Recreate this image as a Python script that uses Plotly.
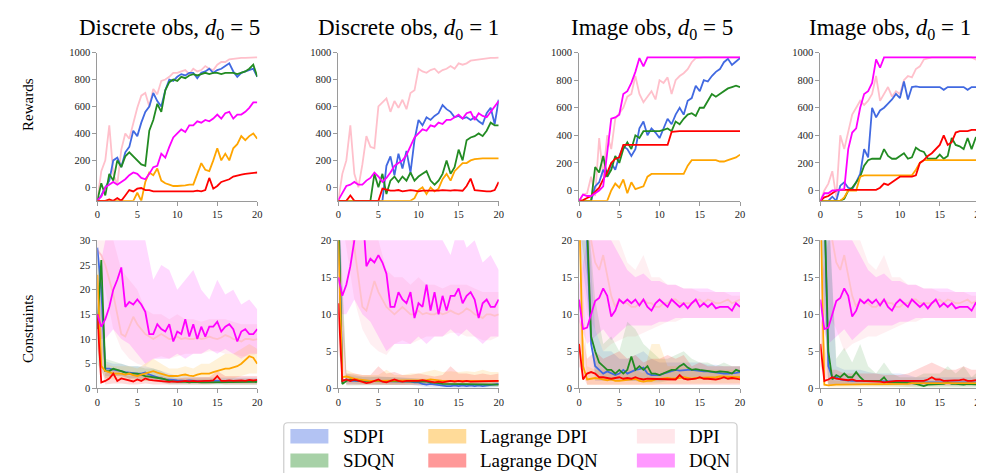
import plotly.graph_objects as go

W, H = 984, 473
X = [i / 2 for i in range(41)]       # training steps, half-unit grid
XB = list(range(21))                 # grid of the shaded spread bands

# ---------------- Rewards (x = 0, 0.5, ..., 20) ----------------
R1_SDPI = [-100,-60,0,50,200,220,150,260,300,420, 380,480,560,600,700,640,600,720,800,790,
           820,840,830,850,850,810,850,860,880,850, 870,880,900,920,860,820,850,860,870,880, 820]
R1_SDQN = [-100,30,-60,100,50,200,150,230,260,230, 200,170,160,420,500,620,560,720,780,800,
           790,820,810,830,840,830,840,850,840,850, 850,840,850,850,850,840,850,860,880,910, 820]
R1_LDPI = [-100,-100,-100,-100,-100,-100,-100,-100,-100,-100, -40,-100,40,110,90,140,50,30,20,10,
           10,10,15,20,20,100,180,130,120,200, 290,200,250,200,290,320,380,350,380,400, 360]
R1_LDQN = [-100,-100,-100,-90,-100,-80,-100,-60,-20,-30, -10,-5,-20,-20,-30,-30,-30,-30,-35,-30,
           -30,-30,-35,-30,-30,-25,-30,-20,70,-10, 10,40,50,60,80,90,95,100,105,110, 110]
R1_DPI = [-95,120,200,460,100,20,280,400,360,480, 590,680,700,600,730,690,790,800,820,850,
          850,860,870,840,880,860,870,900,880,870, 910,930,930,950,955,955,960,960,960,962, 965]
R1_DQN = [-95,-70,0,20,40,20,40,60,90,110, 100,70,60,100,150,160,250,220,300,370,
          400,430,410,460,460,490,480,500,490,510, 540,510,550,560,510,540,540,560,590,630, 630]

R2_SDPI = [-100,-100,-100,-100,-100,-100,-100,-100,-100,-100, -100,-100,160,230,90,250,140,270,110,350,
           500,460,520,500,530,550,610,580,560,520, 530,510,520,500,520,490,470,550,590,470, 650]
R2_SDQN = [-100,-100,-100,-100,-100,-100,-100,-100,-100,100, 0,100,-50,50,80,40,80,50,110,50,
           80,100,120,50,20,50,100,200,100,150, 280,200,350,370,380,400,380,420,480,460, 460]
R2_LDPI = [-100,-100,-100,-100,-100,-100,-100,-100,-100,-100, -100,-100,-100,-100,-100,-100,-100,-100,-100,-80,
           -20,0,-50,0,-30,-10,60,100,50,120, 150,180,180,200,210,215,215,215,215,215, 215]
R2_LDQN = [-100,-100,-100,-60,-100,-100,-100,-100,-100,-100, -100,-10,-20,-25,-25,-20,-30,-25,-20,-25,
           -30,-25,-25,-30,-30,-25,-20,-25,-25,-20, -20,-25,10,65,-20,-25,-30,-30,-30,-20, 40]
R2_DPI = [-95,100,200,460,100,0,170,380,300,290, 600,630,660,560,640,590,650,580,700,720,
          880,860,850,870,880,850,870,880,900,880, 920,910,920,940,945,950,955,955,960,960, 962]
R2_DQN = [-95,-40,10,20,40,20,20,50,70,110, 80,40,70,110,160,180,200,240,300,370,
          400,430,420,460,450,480,470,500,500,520, 540,510,550,560,500,550,530,520,560,600, 640]

R3_SDPI = [-75,-75,-75,-75,30,60,150,100,200,150, 250,320,300,250,300,450,500,400,450,420,
           380,450,520,480,550,600,550,650,670,760, 720,800,790,830,860,880,930,955,910,935, 960]
R3_SDQN = [-75,-75,-75,-75,170,130,250,100,150,250, 200,300,350,300,400,380,430,430,430,430,
           430,440,450,430,500,480,520,550,560,540, 600,600,650,700,680,700,720,740,750,760, 750]
R3_LDPI = [-75,-75,-75,-75,-75,-75,-75,-75,0,50, 20,80,-20,60,10,20,30,100,120,120,
           120,120,120,120,120,120,120,180,220,220, 220,220,220,220,220,210,210,220,230,240, 260]
R3_LDQN = [-75,-70,-55,-40,-10,20,80,130,200,230, 240,330,330,330,330,330,330,330,330,330,
           330,330,330,425,430,430,430,430,430,430, 430,430,430,430,430,430,430,430,430,430, 430]
R3_DPI = [-75,-30,-20,100,-40,380,100,400,300,520, 560,600,680,700,830,700,640,680,720,660,
          800,780,820,700,800,830,850,880,930,960, 965,965,965,965,965,965,965,965,965,965, 965]
R3_DQN = [-75,-30,-40,-40,-20,0,30,300,520,530, 550,700,720,780,860,960,900,965,965,965,
          965,965,965,965,965,965,965,965,965,965, 965,965,965,965,965,965,965,965,965,965, 965]

R4_SDPI = [-75,-75,-75,-45,-75,35,60,20,10,60, 120,300,240,600,530,580,600,630,660,700,
           670,790,660,750,755,750,750,750,750,750, 750,730,750,750,750,750,750,730,750,750, 750]
R4_SDQN = [-75,-75,-75,-75,-75,-75,-60,0,20,60, 100,180,220,230,230,230,300,250,230,230,
           250,270,230,240,310,290,280,230,230,230, 260,230,250,380,330,320,300,380,300,380, 350]
R4_LDPI = [-75,-75,-75,-75,-75,-75,-50,0,0,0, 100,110,110,110,110,110,110,110,110,110,
           110,110,110,110,150,200,220,220,220,220, 220,220,220,220,220,220,220,220,220,220, 220]
R4_LDQN = [-75,-50,-40,-20,0,5,5,5,5,5, 5,5,5,5,5,20,50,40,60,80,
           100,100,100,100,110,200,220,250,270,300, 330,400,330,350,420,430,430,430,440,440, 430]
R4_DPI = [-75,0,50,140,-50,400,300,420,550,600, 650,620,650,700,830,650,700,750,680,720,
          700,800,830,820,880,900,950,960,965,965, 965,965,965,965,965,965,965,965,965,950, 965]
R4_DQN = [-75,-20,-20,0,0,5,10,300,420,450, 600,700,720,780,950,890,965,965,965,965,
          965,965,965,965,965,965,965,965,965,965, 965,965,965,965,965,965,965,965,965,965, 965]

# ---------------- Constraints (x = 0, 0.5, ..., 20) ----------------
C_DISC_DQN = [15,12.5,14,16.5,20,22,24.5,16.5,17.5,17, 18,17,15.5,11,11,13,12,11.5,13,9.5,
              11.5,11,14,10.5,13,10,12.5,10.5,12.5,12.5, 13.5,11.5,12.5,13,12,9.5,11.5,12,11,11, 12]
C_DISC_DPI = [28,27,25,22,19,15,11,10.5,12.5,14.5, 13,12,11,10.5,10,10.5,11,10.5,10,10,
              10.5,10,10.2,10,10,10.3,10,10.2,10.5,10.2, 10,10.3,10.8,10.5,10,9.8,9.5,10,10,9.8, 10]
C_IMG_DQN = [12,8,8.2,10,11.8,12.2,13.5,12.5,9.7,10.5, 12,11.5,12,11.5,12,11.2,12,11,10.5,11.5,
             12,11.5,11,12,11.5,11,11.5,10.8,11.5,12, 11,11.5,11,11.5,10.8,11,11,11,10.5,11.5, 11]
C_IMG_DPI = [25,24,22,20,17,16,18,15,12.5,11, 12,11.5,11.5,11,11,11.5,12,11.5,11.5,11,
             11,11.5,11.5,12,12,11.5,11.5,11.5,11.5,11.8, 12,11.5,12,11.8,11.5,11.5,11.8,12,11.5,11.8, 12]

C1_SDPI = [28.5,20,4,4,3.8,3.7,3.5,3.3,3.2,3, 3,3,3.2,2.8,2.5,2.3,2,1.8,1.8,1.7,
           1.6,1.5,1.5,1.6,1.5,1.5,1.4,1.5,1.5,1.4, 1.5,1.4,1.5,1.4,1.5,1.4,1.5,1.5,1.4,1.5, 1.5]
C1_SDQN = [12,26,3.5,3.5,4,3.8,3.5,3.2,3,3, 3,2.8,2.5,2.4,2.3,2.2,2,1.8,1.5,1.4,
           1.3,1.3,1.3,1.2,1.3,1.2,1.2,1.2,1.2,1.2, 1.3,1.2,1.3,1.2,1.2,1.2,1.2,1.3,1.2,1.3, 1.3]
C1_LDPI = [23,4.5,3.5,3.3,3,3,3,2.8,3,2.7, 2.5,2.8,3,3.3,3.5,3.2,3,2.7,2.5,2.5,
           2.5,2.7,2.8,2.6,2.5,2.8,3,3,3,3.3, 3.5,3.8,4,4,4.2,4.5,5,5.8,6.5,6.2, 5]
C1_LDQN = [15,1.2,1.5,2,3,1.5,2,1.8,1.5,1.4, 1.8,1.5,2,1.7,1.6,1.5,1.5,1.3,1.3,1.4,
           1.3,1.4,1.5,1.4,1.5,1.4,1.5,1.5,1.5,1.6, 2.5,1.5,1.5,1.6,1.5,1.6,1.6,1.5,1.7,1.6, 1.7]

C2_SDPI = [25,1,1.2,1,1,1,1,0.9,0.9,0.9, 1,1,0.9,0.9,0.9,1,0.9,1,0.9,0.8,
           0.8,0.6,0.5,0.6,0.5,0.4,0.3,0.3,0.3,0.4, 0.3,0.4,0.3,0.4,0.3,0.4,0.3,0.4,0.4,0.5, 0.6]
C2_SDQN = [25,0.6,1,1.2,1.1,1,1,1,1,1, 1,1,1,1,1,1,0.9,0.9,0.9,0.9,
           0.9,0.9,0.9,0.8,0.8,0.7,0.6,0.6,0.5,0.5, 0.6,0.5,0.5,0.6,0.5,0.5,0.6,0.5,0.5,0.6, 0.5]
C2_LDPI = [20,1.5,1.6,1.4,1.3,1.2,1.1,1,1,1, 1,1.1,1,1,1,1,1,1,1,1,
           1,1.1,1.1,1.2,1.1,1,1,1,1,1, 1,1,1,1,1,1,1,1,1,0.9, 1]
C2_LDQN = [11.5,1,1.2,1,1.2,1,0.8,0.7,0.8,1, 1.2,0.9,0.8,1,1.2,1,0.9,1,1,0.9,
           1,1.1,1,0.9,0.8,0.9,0.8,0.9,1,0.9, 1,0.9,1,0.9,0.9,1,0.9,1,0.9,1, 1]

C3_SDPI = [25,25,20,6,3,2.5,2,2.3,2,1.8, 2,2.5,2,2.3,2.5,2.6,2.8,2,1.8,1.8,
           1.8,2,2.2,2.3,2.5,2.4,2.5,2.5,2.5,2.4, 2.3,2.3,2.3,2.2,2.2,2.1,2,2,2,2.1, 2.2]
C3_SDQN = [25,25,22,7,5,3.5,3,2.5,2.5,2, 2.5,2,2.5,4.3,2.5,3,2.5,3,2,2,
           1.8,2,2.3,2.5,2.5,3,3.3,2.8,2.5,2.6, 2.5,2.4,2.3,2.3,2.2,2.3,2.3,2.2,2,2.5, 2.3]
C3_LDPI = [25,3,1.2,1.3,1.4,1.3,1.2,1.1,1.2,1, 1,1.1,1.2,1.2,1.3,1,0.9,1,1,1.2,
           1.3,1.4,1.4,1.3,1.3,1.4,1.5,1.4,1.3,1.4, 1.4,1.5,1.5,1.5,1.5,1.6,1.6,1.5,1.5,1.5, 1.5]
C3_LDQN = [6,1.2,2,2.2,2,1.5,1.5,1.4,1.3,1.4, 1.5,1.3,1.4,1.3,1.5,1.3,1.2,1.3,1.3,1.2,
           1.2,1.3,1.3,1.2,1.2,1.8,1.3,1.2,1.2,1.3, 1.5,1.3,1.3,1.2,1.2,1.3,1.5,1.3,1.4,1.3, 1.2]

C4_SDPI = [25,25,3,1.5,1.5,1.2,1.1,1,1,1, 1,1,1,1,1,1,1,1,1,1,
           1,0.9,0.9,0.9,0.8,0.8,0.8,0.8,0.8,0.8, 0.8,0.8,0.8,0.8,0.8,0.8,0.8,0.8,0.8,0.8, 0.8]
C4_SDQN = [25,25,5,1.2,1.8,1.5,2,1.5,1.5,2.2, 1.5,1,1,1,1,1,1.5,0.8,0.8,0.8,
           0.8,0.8,0.8,0.7,0.6,0.4,0.3,0.5,0.5,0.5, 0.5,0.6,0.8,0.6,0.6,0.5,0.5,0.6,0.6,0.5, 0.5]
C4_LDPI = [25,0.5,0.4,0.5,0.5,0.5,0.5,0.5,0.5,0.5, 0.6,0.6,0.6,0.6,0.6,0.6,0.6,0.6,0.6,0.6,
           0.6,0.6,0.6,0.7,0.7,0.7,0.7,0.7,0.7,0.7, 0.7,0.7,0.7,0.7,0.7,0.7,0.7,0.7,0.7,0.7, 0.7]
C4_LDQN = [6,1,1.2,1.5,1.3,1.2,1.2,1.1,1.2,1, 1,1,1,0.9,0.9,0.9,0.8,0.9,1,1,
           1,1,0.9,0.9,1,1,1,1.2,1.5,1.2, 1.2,1,1,1,1,1.1,1.2,1,1,1.1, 1.2]

# ---------------- Constraint spread bands (x = 0, 1, ..., 20) ----------------
BD_DQN_HI = [22,30,32,32,30,32,30,22,25,24,20,22,24,20,18,22,19,20,17,18,16]
BD_DQN_LO = [10,10,12,10,9,7,5,6,6,6,7,6,7,7,8,7,8,7,6,7,7]
BD_DPI_HI = [30,30,30,24,22,20,16,15,15,14,15,14,14,13.5,14,14,14,13.5,13,13,13]
BD_DPI_LO = [26,20,12,8,6,5,4.5,6,6.5,6,6.5,7,7,7,7.5,7.5,7,7,6.5,6.5,7]
BI_DQN_HI = [14,20,22,22,20,18,16,15,15.5,14.5,14.5,14,14,13.5,13.5,13.5,13.5,13,13,13,13]
BI_DQN_LO = [9,6,7,8,6.5,7.5,8.5,8.5,8.5,8.5,9,9,9.5,9.5,9.5,9.5,9.5,9.5,9.5,9.5,9.5]
BI_DPI_HI = [22,22,22,22,22,20,17,16,18,15,15,14,14,13.5,13.5,13,13,13,13,12.5,12.5]
BI_DPI_LO = [18,10,8,5,6,6.5,7,7,7.5,8,8.5,9,9,9.5,9.5,9.5,9.5,9.5,9.5,9.5,9.5]

B1_SDPI_HI = [30,5.5,5,5,4.5,4.5,4.5,4,3.5,3,2.5,2.5,2.3,2.3,2.2,2.2,2.2,2.2,2.2,2.2,2.2]
B1_SDPI_LO = [20,2.5,2.5,2.5,2,2,2,1.5,1.2,1,1,1,1,1,1,1,1,1,1,1,1]
B1_SDQN_HI = [28,6,5.5,5,4.5,4.5,4,4,3.5,2.5,2,2,2,2,2,2,2,2,2,2,2]
B1_SDQN_LO = [5,2,2.5,2.5,2,2,1.5,1.5,1.2,0.8,0.7,0.7,0.7,0.7,0.7,0.7,0.7,0.7,0.7,0.7,0.7]
B1_LDPI_HI = [28,5,4.5,4.5,4.5,4,5,6,5,4,4,4.5,4,5,5,6,7,7,8,9,8]
B1_LDPI_LO = [18,2,1.8,1.8,1.8,1.5,1.5,1.8,1.8,1.5,1.5,1.5,1.5,1.5,1.5,2,2,2,2.5,3,3]
B1_LDQN_HI = [20,3,4,3,2.5,3,3,2.5,2.5,2,2,2.2,2.2,2.2,2.3,3.5,2.5,2.5,2.5,2.5,2.5]
B1_LDQN_LO = [8,0.8,1,1,0.8,0.8,1,0.8,0.8,0.7,0.7,0.8,0.8,0.8,0.8,1,0.8,0.8,0.8,0.8,0.8]

B2_SDPI_HI = [25,1.8,1.6,1.5,1.5,1.6,1.5,1.5,1.5,1.4,1.3,1,0.9,0.7,0.7,0.7,0.7,0.7,0.7,0.8,1]
B2_SDPI_LO = [15,0.6,0.6,0.5,0.5,0.5,0.5,0.5,0.5,0.5,0.4,0.2,0.1,0,0,0,0,0,0,0.1,0.2]
B2_SDQN_HI = [28,2,1.8,1.6,1.6,1.6,1.5,1.5,1.4,1.4,1.4,1.3,1.2,1,0.9,1,0.9,0.9,1,0.9,0.9]
B2_SDQN_LO = [20,0.4,0.5,0.5,0.5,0.5,0.5,0.5,0.5,0.5,0.5,0.5,0.4,0.3,0.2,0.2,0.2,0.2,0.2,0.2,0.2]
B2_LDPI_HI = [25,2.5,2,1.8,1.8,1.8,2.5,1.8,1.8,2,2,2.2,2.5,2.2,2.3,2.2,2.3,2.2,2.5,2.2,2.2]
B2_LDPI_LO = [15,0.8,0.7,0.6,0.6,0.6,0.6,0.6,0.6,0.6,0.6,0.6,0.5,0.5,0.5,0.5,0.5,0.5,0.5,0.5,0.5]
B2_LDQN_HI = [18,2,2,1.8,1.8,3,2,2.2,1.8,1.8,2,1.8,1.6,1.8,3,2,2,1.8,2,1.8,2]
B2_LDQN_LO = [5,0.5,0.5,0.4,0.4,0.5,0.4,0.5,0.4,0.4,0.5,0.4,0.4,0.4,0.5,0.4,0.4,0.4,0.4,0.4,0.4]

B3_SDPI_HI = [25,25,8,5,5,4,4,4.5,5,4,3.5,3.5,3.5,3.5,3.5,3.5,3.2,3.2,3,3,3]
B3_SDPI_LO = [20,12,1,1,1,1,1,1,1.2,1,1,1.2,1.5,1.5,1.5,1.5,1.5,1.5,1.3,1.3,1.5]
B3_SDQN_HI = [25,25,12,6,7,5,9,8,6,5,4,4,4.5,5,4,3.5,3.5,3,3.5,3,3]
B3_SDQN_LO = [22,15,2,1.5,1,1,1,1,0.8,0.8,0.8,1,1.2,1.5,1.2,1.2,1.2,1.2,1.2,1.2,1.5]
B3_LDPI_HI = [25,3,2.5,2.5,2.5,2,2.5,2.5,2,6,6,3,3,3,2.5,2.5,2.5,2.5,2.5,2.5,2.5]
B3_LDPI_LO = [20,0.5,0.6,0.6,0.6,0.5,0.6,0.6,0.5,0.5,0.6,0.6,0.6,0.7,0.6,0.6,0.7,0.7,0.7,0.7,0.7]
B3_LDQN_HI = [10,4,5,4,4.5,5,4,4.5,3.5,4,4,4.5,4,4.5,3,3.5,3,3,3,3,3]
B3_LDQN_LO = [3,0.5,0.6,0.5,0.5,0.5,0.5,0.5,0.5,0.5,0.5,0.5,0.5,0.5,0.5,0.5,0.5,0.5,0.5,0.5,0.5]

B4_SDPI_HI = [25,25,3,2.5,2.5,2.5,2.2,2,2,2,2,1.8,1.5,1.5,1.5,1.5,1.5,1.5,1.5,1.5,1.5]
B4_SDPI_LO = [20,0.5,0.5,0.5,0.5,0.5,0.5,0.5,0.5,0.5,0.5,0.4,0.3,0.3,0.3,0.3,0.3,0.3,0.3,0.3,0.3]
B4_SDQN_HI = [25,25,4,5.5,3.5,6,3,2,3.5,2,1.5,1.5,1.5,2,2,2,3,2,3,1.5,2.5]
B4_SDQN_LO = [22,0.5,0.5,0.5,0.5,0.5,0.4,0.4,0.3,0.3,0.3,0.2,0.1,0,0,0,0.1,0.1,0.1,0.1,0.1]
B4_LDPI_HI = [25,1.2,1,1,1,1,1,1,1,1,1,1,1.1,1.1,1.1,1.1,1.1,1.1,1.1,1.1,1.1]
B4_LDPI_LO = [20,0.1,0.1,0.1,0.1,0.2,0.2,0.2,0.2,0.2,0.2,0.2,0.3,0.3,0.3,0.3,0.3,0.3,0.3,0.3,0.3]
B4_LDQN_HI = [10,2.5,2.5,2,2,2,2,2,1.8,1.8,1.8,2,2.5,3,3.5,3,2.5,2.5,3,2.5,2.5]
B4_LDQN_LO = [3,0.5,0.5,0.5,0.5,0.5,0.5,0.5,0.5,0.5,0.5,0.5,0.5,0.5,0.5,0.5,0.5,0.5,0.5,0.5,0.5]

TITLES = ["Discrete obs, <i>d</i><sub>0</sub> = 5", "Discrete obs, <i>d</i><sub>0</sub> = 1",
          "Image obs, <i>d</i><sub>0</sub> = 5", "Image obs, <i>d</i><sub>0</sub> = 1"]
METHODS = ["SDPI", "SDQN", "Lagrange DPI", "Lagrange DQN", "DPI", "DQN"]
RGB = {"SDPI": (65, 105, 225), "SDQN": (34, 139, 34), "Lagrange DPI": (255, 165, 0),
       "Lagrange DQN": (255, 0, 0), "DPI": (255, 192, 203), "DQN": (255, 0, 255)}

REW = [
    {"SDPI": R1_SDPI, "SDQN": R1_SDQN, "Lagrange DPI": R1_LDPI, "Lagrange DQN": R1_LDQN, "DPI": R1_DPI, "DQN": R1_DQN},
    {"SDPI": R2_SDPI, "SDQN": R2_SDQN, "Lagrange DPI": R2_LDPI, "Lagrange DQN": R2_LDQN, "DPI": R2_DPI, "DQN": R2_DQN},
    {"SDPI": R3_SDPI, "SDQN": R3_SDQN, "Lagrange DPI": R3_LDPI, "Lagrange DQN": R3_LDQN, "DPI": R3_DPI, "DQN": R3_DQN},
    {"SDPI": R4_SDPI, "SDQN": R4_SDQN, "Lagrange DPI": R4_LDPI, "Lagrange DQN": R4_LDQN, "DPI": R4_DPI, "DQN": R4_DQN},
]
CON = [
    {"SDPI": C1_SDPI, "SDQN": C1_SDQN, "Lagrange DPI": C1_LDPI, "Lagrange DQN": C1_LDQN, "DPI": C_DISC_DPI, "DQN": C_DISC_DQN},
    {"SDPI": C2_SDPI, "SDQN": C2_SDQN, "Lagrange DPI": C2_LDPI, "Lagrange DQN": C2_LDQN, "DPI": C_DISC_DPI, "DQN": C_DISC_DQN},
    {"SDPI": C3_SDPI, "SDQN": C3_SDQN, "Lagrange DPI": C3_LDPI, "Lagrange DQN": C3_LDQN, "DPI": C_IMG_DPI, "DQN": C_IMG_DQN},
    {"SDPI": C4_SDPI, "SDQN": C4_SDQN, "Lagrange DPI": C4_LDPI, "Lagrange DQN": C4_LDQN, "DPI": C_IMG_DPI, "DQN": C_IMG_DQN},
]
BANDS = [
    {"DPI": (BD_DPI_HI, BD_DPI_LO), "DQN": (BD_DQN_HI, BD_DQN_LO), "SDPI": (B1_SDPI_HI, B1_SDPI_LO),
     "SDQN": (B1_SDQN_HI, B1_SDQN_LO), "Lagrange DPI": (B1_LDPI_HI, B1_LDPI_LO), "Lagrange DQN": (B1_LDQN_HI, B1_LDQN_LO)},
    {"DPI": (BD_DPI_HI, BD_DPI_LO), "DQN": (BD_DQN_HI, BD_DQN_LO), "SDPI": (B2_SDPI_HI, B2_SDPI_LO),
     "SDQN": (B2_SDQN_HI, B2_SDQN_LO), "Lagrange DPI": (B2_LDPI_HI, B2_LDPI_LO), "Lagrange DQN": (B2_LDQN_HI, B2_LDQN_LO)},
    {"DPI": (BI_DPI_HI, BI_DPI_LO), "DQN": (BI_DQN_HI, BI_DQN_LO), "SDPI": (B3_SDPI_HI, B3_SDPI_LO),
     "SDQN": (B3_SDQN_HI, B3_SDQN_LO), "Lagrange DPI": (B3_LDPI_HI, B3_LDPI_LO), "Lagrange DQN": (B3_LDQN_HI, B3_LDQN_LO)},
    {"DPI": (BI_DPI_HI, BI_DPI_LO), "DQN": (BI_DQN_HI, BI_DQN_LO), "SDPI": (B4_SDPI_HI, B4_SDPI_LO),
     "SDQN": (B4_SDQN_HI, B4_SDQN_LO), "Lagrange DPI": (B4_LDPI_HI, B4_LDPI_LO), "Lagrange DQN": (B4_LDQN_HI, B4_LDQN_LO)},
]
REW_RANGES = [[-100, 1000], [-100, 1000], [-75, 1000], [-75, 1000]]
CON_RANGES = [[0, 30], [0, 20], [0, 20], [0, 20]]
REW_TICKS = [0, 200, 400, 600, 800, 1000]
CON_TICKS = [[0, 5, 10, 15, 20, 25, 30], [0, 5, 10, 15, 20], [0, 5, 10, 15, 20], [0, 5, 10, 15, 20]]
X_TICKS = [0, 5, 10, 15, 20]

# ---------------- layout geometry (pixels) ----------------
FONT = "Liberation Serif"
X_DOM_PX = [(87, 248.3), (330, 491.7), (572.7, 735), (816, 976.5)]
TOP_PX = (40.5, 192.3)
BOT_PX = (232.7, 384.3)
TITLE_X_PX = [160, 401, 646, 886]


def px(x):
    return x / W


def py(y):
    return 1 - y / H


def rgba(name, a):
    r, g, b = RGB[name]
    return f"rgba({r},{g},{b},{a})"


def blend(name, a):
    r, g, b = RGB[name]
    return f"rgb({round(255 - a * (255 - r))},{round(255 - a * (255 - g))},{round(255 - a * (255 - b))})"


fig = go.Figure()
LINE_ORDER = ["DPI", "SDPI", "SDQN", "Lagrange DPI", "Lagrange DQN", "DQN"]
BAND_ORDER = ["DPI", "DQN", "SDPI", "SDQN", "Lagrange DPI", "Lagrange DQN"]
BAND_ALPHA = {"DPI": 0.25, "DQN": 0.15, "SDPI": 0.15, "SDQN": 0.13, "Lagrange DPI": 0.15, "Lagrange DQN": 0.15}

for i in range(4):
    xt, yt = f"x{i + 1}", f"y{i + 1}"
    xb, yb = f"x{i + 5}", f"y{i + 5}"
    for m in LINE_ORDER:
        fig.add_trace(go.Scatter(x=X, y=REW[i][m], mode="lines", xaxis=xt, yaxis=yt,
                                 line=dict(color=rgba(m, 1), width=1.8), showlegend=False, hoverinfo="skip"))
    for m in BAND_ORDER:
        hi, lo = BANDS[i][m]
        fig.add_trace(go.Scatter(x=XB + XB[::-1], y=hi + lo[::-1], mode="lines", fill="toself",
                                 fillcolor=rgba(m, BAND_ALPHA[m]), line=dict(width=0), xaxis=xb, yaxis=yb,
                                 showlegend=False, hoverinfo="skip"))
    for m in LINE_ORDER:
        fig.add_trace(go.Scatter(x=X, y=CON[i][m], mode="lines", xaxis=xb, yaxis=yb,
                                 line=dict(color=rgba(m, 1), width=1.8), showlegend=False, hoverinfo="skip"))

axis_style = dict(showline=True, linecolor="#9a9a9a", linewidth=1, ticks="outside", ticklen=4,
                  tickcolor="#9a9a9a", tickwidth=1, showgrid=False, zeroline=False,
                  tickfont=dict(family=FONT, size=10.5, color="#222"))
layout = {}
for i in range(4):
    xd = [px(X_DOM_PX[i][0]), px(X_DOM_PX[i][1])]
    for row, (yp, rng, tv, k) in enumerate([(TOP_PX, REW_RANGES[i], REW_TICKS, i + 1),
                                            (BOT_PX, CON_RANGES[i], CON_TICKS[i], i + 5)]):
        layout[f"xaxis{k}"] = dict(axis_style, domain=xd, range=[0, 20], tickvals=X_TICKS,
                                   anchor=f"y{k}")
        layout[f"yaxis{k}"] = dict(axis_style, domain=[py(yp[1]), py(yp[0])], range=rng, tickvals=tv,
                                   anchor=f"x{k}")

annotations = []
for i in range(4):
    annotations.append(dict(text=TITLES[i], x=px(TITLE_X_PX[i]), y=py(16), xref="paper", yref="paper",
                            showarrow=False, xanchor="center", yanchor="middle",
                            font=dict(family=FONT, size=23, color="black")))
annotations.append(dict(text="Rewards", x=px(17.8), y=py(93.5), xref="paper", yref="paper", showarrow=False,
                        textangle=-90, xanchor="center", yanchor="middle",
                        font=dict(family=FONT, size=15, color="black")))
annotations.append(dict(text="Constraints", x=px(17.8), y=py(324), xref="paper", yref="paper", showarrow=False,
                        textangle=-90, xanchor="center", yanchor="middle",
                        font=dict(family=FONT, size=15, color="black")))

# ---------------- manual legend ----------------
shapes = []
L, R, T, B, r = 275, 732, 419.5, 485, 4
path = (f"M {px(L + r)},{py(T)} L {px(R - r)},{py(T)} Q {px(R)},{py(T)} {px(R)},{py(T + r)} "
        f"L {px(R)},{py(B - r)} Q {px(R)},{py(B)} {px(R - r)},{py(B)} L {px(L + r)},{py(B)} "
        f"Q {px(L)},{py(B)} {px(L)},{py(B - r)} L {px(L)},{py(T + r)} Q {px(L)},{py(T)} {px(L + r)},{py(T)} Z")
shapes.append(dict(type="path", path=path, xref="paper", yref="paper",
                   line=dict(color="#cccccc", width=1.2), fillcolor="rgba(255,255,255,0.8)"))
LEG_COLS = [(281.7, 333), (420.7, 471), (631, 681.7)]
LEG_ROWS = [(426, 440.7), (451, 465.3)]
LEG_GRID = [["SDPI", "SDQN"], ["Lagrange DPI", "Lagrange DQN"], ["DPI", "DQN"]]
for c, (patch_x, text_x) in enumerate(LEG_COLS):
    for rr, (y0, y1) in enumerate(LEG_ROWS):
        m = LEG_GRID[c][rr]
        shapes.append(dict(type="rect", xref="paper", yref="paper", x0=px(patch_x), x1=px(patch_x + 38.3),
                           y0=py(y1), y1=py(y0), fillcolor=blend(m, 0.4), line=dict(width=0)))
        annotations.append(dict(text=m, x=px(text_x), y=py((y0 + y1) / 2), xref="paper", yref="paper",
                                showarrow=False, xanchor="left", yanchor="middle",
                                font=dict(family=FONT, size=19, color="black")))

fig.update_layout(width=W, height=H, margin=dict(l=0, r=0, t=0, b=0), plot_bgcolor="white",
                  paper_bgcolor="white", showlegend=False, annotations=annotations, shapes=shapes, **layout)
fig.write_html("out.html")
